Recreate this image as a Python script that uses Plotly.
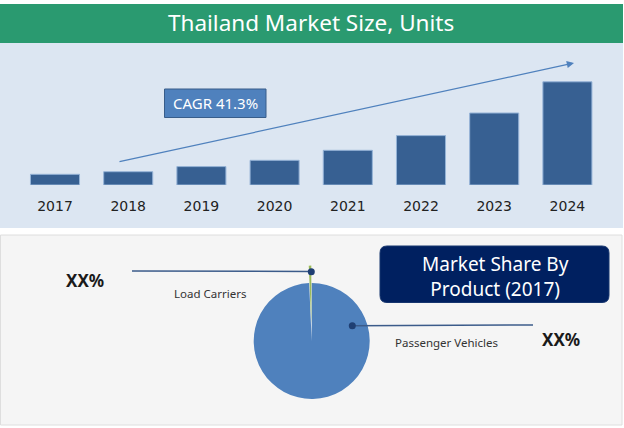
import plotly.graph_objects as go

W, H = 624, 428

# ---- data ----
years = ["2017", "2018", "2019", "2020", "2021", "2022", "2023", "2024"]
market_size = [10.7, 13.3, 18.4, 24.7, 34.7, 49.4, 72.0, 103.2]
cagr_label = "CAGR 41.3%"
share_labels = ["Passenger Vehicles", "Load Carriers"]
share_values = [99.3, 0.7]
share_text = ["XX%", "XX%"]


def px(x):
    return x / W


def py(y):
    return 1 - y / H


fig = go.Figure()

fig.add_trace(go.Bar(
    x=years, y=market_size,
    marker=dict(color="#376092", line=dict(color="#95b3d7", width=1)),
    width=0.67, xaxis="x", yaxis="y", showlegend=False, hoverinfo="x+y",
))

pull_lc = 0.3
fig.add_trace(go.Pie(
    labels=share_labels, values=share_values, sort=False, direction="clockwise",
    rotation=0, pull=[0, pull_lc], textinfo="none", showlegend=False,
    marker=dict(colors=["#4f81bd", "#9bbb59"], line=dict(width=0)),
    domain=dict(x=[px(311.7 - 58 * (1 + pull_lc)), px(311.7 + 58 * (1 + pull_lc))],
                y=[py(341 + 58 * (1 + pull_lc)), py(341 - 58 * (1 + pull_lc))]),
))

shapes = []
# title bar
shapes.append(dict(type="rect", xref="paper", yref="paper", x0=px(0), x1=px(623), y0=py(43), y1=py(4),
                   fillcolor="#2a9a70", line=dict(width=0), layer="below"))
# bar chart panel
shapes.append(dict(type="rect", xref="paper", yref="paper", x0=px(0), x1=px(623), y0=py(228), y1=py(43),
                   fillcolor="#dce6f2", line=dict(width=0), layer="below"))
# bottom panel
shapes.append(dict(type="rect", xref="paper", yref="paper", x0=px(0.5), x1=px(622), y0=py(425), y1=py(235),
                   fillcolor="#f5f5f5", line=dict(color="#dedede", width=1), layer="below"))
# CAGR box
shapes.append(dict(type="rect", xref="paper", yref="paper", x0=px(164.5), x1=px(266), y0=py(117.5), y1=py(89),
                   fillcolor="#4f81bd", line=dict(color="#385d8a", width=1)))
# rounded box
x0, x1, y0, y1, r = 380, 609, 246, 302.5, 7
path = (f"M {px(x0 + r)} {py(y0)} L {px(x1 - r)} {py(y0)} Q {px(x1)} {py(y0)} {px(x1)} {py(y0 + r)} "
        f"L {px(x1)} {py(y1 - r)} Q {px(x1)} {py(y1)} {px(x1 - r)} {py(y1)} "
        f"L {px(x0 + r)} {py(y1)} Q {px(x0)} {py(y1)} {px(x0)} {py(y1 - r)} "
        f"L {px(x0)} {py(y0 + r)} Q {px(x0)} {py(y0)} {px(x0 + r)} {py(y0)} Z")
shapes.append(dict(type="path", xref="paper", yref="paper", path=path,
                   fillcolor="#002060", line=dict(color="#17366f", width=1)))
# leader lines
shapes.append(dict(type="line", xref="paper", yref="paper", x0=px(132), x1=px(311), y0=py(271), y1=py(271.5),
                   line=dict(color="#3b5b8a", width=1.5)))
shapes.append(dict(type="line", xref="paper", yref="paper", x0=px(352), x1=px(533), y0=py(325.7), y1=py(325),
                   line=dict(color="#3b5b8a", width=1.5)))
for cx, cy in [(311.3, 271.7), (352.3, 325.7)]:
    shapes.append(dict(type="circle", xref="paper", yref="paper", x0=px(cx - 3.5), x1=px(cx + 3.5),
                       y0=py(cy + 3.5), y1=py(cy - 3.5), fillcolor="#1f3f73", line=dict(width=0)))


def label(text, x, y, size, color, family="Noto Sans"):
    return dict(text=text, x=px(x), y=py(y), xref="paper", yref="paper", showarrow=False,
                xanchor="center", yanchor="middle", font=dict(family=family, size=size, color=color))


annotations = [
    label("Thailand Market Size, Units", 311, 23, 22.5, "white"),
    label(cagr_label, 215.3, 103.3, 15, "white"),
    label("Market Share By<br>Product (2017)", 495, 276.5, 19, "white"),
    label(share_labels[1], 210, 293.3, 11.5, "#333333"),
    label(share_labels[0], 446, 342.3, 11.5, "#333333"),
    label(f"<b>{share_text[1]}</b>", 85, 280.7, 17, "#1a1a1a"),
    label(f"<b>{share_text[0]}</b>", 560.5, 339, 17, "#1a1a1a"),
]
# growth arrow
annotations.append(dict(text="", x=px(574), y=py(63), ax=118 - 574, ay=162 - 63, xref="paper", yref="paper",
                        axref="pixel", ayref="pixel", showarrow=True, arrowhead=2, arrowsize=1.2,
                        arrowwidth=1.2, arrowcolor="#4f81bd"))

fig.update_layout(
    width=W, height=H, margin=dict(l=0, r=0, t=0, b=0),
    paper_bgcolor="white", plot_bgcolor="rgba(0,0,0,0)",
    xaxis=dict(domain=[px(18.4), px(604)], range=[-0.5, 7.5], type="category", showgrid=False,
               zeroline=False, showline=False, ticks="", ticklabelstandoff=11,
               tickfont=dict(family="DejaVu Sans", size=14, color="#222222"), fixedrange=True),
    yaxis=dict(domain=[py(185), py(50)], range=[0, 135], visible=False, fixedrange=True),
    shapes=shapes, annotations=annotations,
)

fig.write_html("out.html")
